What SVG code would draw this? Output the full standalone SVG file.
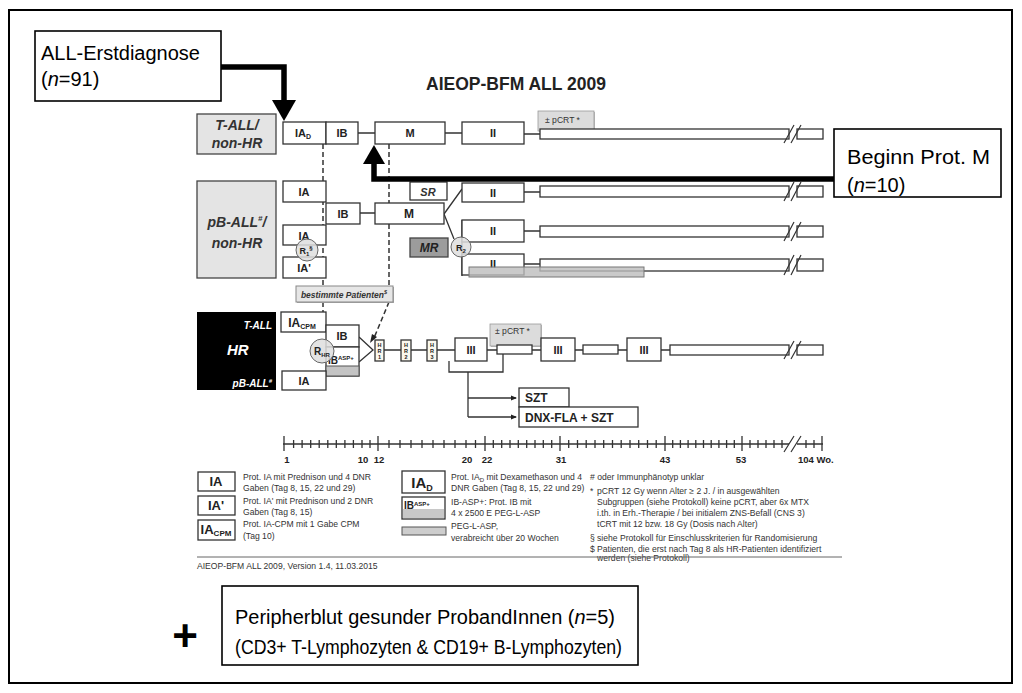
<svg xmlns="http://www.w3.org/2000/svg" width="1022" height="693" viewBox="0 0 1022 693">
<style>
.b{fill:#fff;stroke:#333;stroke-width:1.3}
.gb{fill:#e4e4e4;stroke:#444;stroke-width:1.3}
.t{font-family:"Liberation Sans",Arial,sans-serif;font-weight:bold;fill:#222;text-anchor:middle}
.ti{font-family:"Liberation Sans",Arial,sans-serif;font-weight:bold;font-style:italic;fill:#333;text-anchor:middle}
.ln{stroke:#333;stroke-width:1.3;fill:none}
.dash{stroke:#333;stroke-width:1.5;stroke-dasharray:5 3;fill:none}
.fn{font-family:"Liberation Sans",Arial,sans-serif;font-size:8.6px;fill:#333}
.big{font-family:"Liberation Sans",Arial,sans-serif;font-size:20px;fill:#000}
.thick{stroke:#000;stroke-width:5.5;fill:none}
.circ{fill:#dedede;fill-opacity:0.85;stroke:#666;stroke-width:1}
.sl{stroke:#333;stroke-width:1.2;fill:none}
</style>
<defs>
<marker id="ah" markerWidth="6" markerHeight="6" refX="5" refY="3" orient="auto" markerUnits="userSpaceOnUse"><path d="M0,0.5 L6,3 L0,5.5 Z" fill="#222"/></marker>
</defs>
<rect width="1022" height="693" fill="#fff"/>
<rect x="9" y="10" width="1003" height="673" fill="none" stroke="#000" stroke-width="2"/>

<text x="516" y="90" class="t" font-size="17.5" fill="#111">AIEOP-BFM ALL 2009</text>

<g id="erstdiagnose">
<rect x="35" y="31" width="186" height="70" fill="#fff" stroke="#000" stroke-width="1.6"/>
<text x="41" y="60" class="big">ALL-Erstdiagnose</text>
<text x="41" y="86" class="big">(<tspan font-style="italic">n</tspan>=91)</text>
</g>

<g id="beginn-m">
<rect x="834" y="129" width="167" height="68" fill="#fff" stroke="#000" stroke-width="1.6"/>
<text x="847" y="164" class="big" textLength="143" lengthAdjust="spacingAndGlyphs">Beginn Prot. M</text>
<text x="847" y="192" class="big">(<tspan font-style="italic">n</tspan>=10)</text>
</g>

<g id="tall-nonhr">
<rect x="197" y="114" width="79" height="40" class="gb"/>
<text x="237" y="130" class="ti" font-size="14">T-ALL/</text>
<text x="237" y="148" class="ti" font-size="14">non-HR</text>
</g>

<g id="pball-nonhr">
<rect x="197" y="181" width="79" height="97" class="gb"/>
<text x="237" y="227" class="ti" font-size="14">pB-ALL<tspan font-size="8" dy="-6">#</tspan><tspan dy="6">/</tspan></text>
<text x="237" y="248" class="ti" font-size="14">non-HR</text>
</g>

<g id="hr">
<rect x="197" y="312" width="79" height="78" fill="#000"/>
<text x="272" y="329" class="ti" font-size="10" style="fill:#fff;text-anchor:end">T-ALL</text>
<text x="227" y="355" class="ti" font-size="15" style="fill:#fff;text-anchor:start">HR</text>
<text x="272" y="387" class="ti" font-size="10" style="fill:#fff;text-anchor:end">pB-ALL<tspan font-size="6" dy="-4">#</tspan></text>
</g>

<g id="connectors">
<path class="ln" d="M358,133 H375 M445,133 H462 M524,134 H540"/>
<path class="ln" d="M360,213 H375 M524,192 H540 M524,231 H540 M524,264 H540 M444,214 L462,189 M444,214 L454,239 M462,220 V276"/>
<path class="ln" d="M359,337 L373,350 L359,362 M384,350 H401 M411,350 H427 M437,350 H455 M487,350 H497 M532,350 H541 M575,350 H583 M618,350 H627 M661,350 H670"/>
<path class="ln" d="M449,361 V372 H503 V354 M468,372 V417"/>
<path class="ln" d="M468,398 H516" marker-end="url(#ah)"/>
<path class="ln" d="M468,417 H516" marker-end="url(#ah)"/>
<path class="dash" d="M323,144 V286 M323,302 V325 M389,144 V286"/>
<path class="dash" d="M389,302 L374,338"/>
<path d="M370,343 L372,334 L377,337 Z" fill="#222"/>
</g>

<g id="row-tall">
<rect x="283" y="122" width="43" height="22" class="b"/>
<text x="303" y="137" class="t" font-size="11">IA<tspan font-size="7" dy="2">D</tspan></text>
<rect x="326" y="122" width="32" height="22" class="b"/>
<text x="342" y="137" class="t" font-size="11">IB</text>
<rect x="375" y="122" width="70" height="22" class="b"/>
<text x="410" y="137" class="t" font-size="11">M</text>
<rect x="462" y="122" width="62" height="22" class="b"/>
<text x="493" y="137" class="t" font-size="11">II</text>
<rect x="539" y="112" width="56" height="20" fill="#bbb"/>
<rect x="538" y="111" width="56" height="20" fill="#dcdcdc" stroke="#999" stroke-width="0.8"/>
<text x="545" y="123" class="fn" font-size="7.5">± pCRT *</text>
<rect x="540" y="129" width="249" height="10" class="b"/>
<rect x="797" y="129" width="26" height="10" class="b"/>
<path class="sl" d="M784,143 L794,125 M791,143 L801,125"/>
</g>

<g id="row-pb">
<rect x="283" y="181" width="43" height="21" class="b"/>
<text x="304" y="196" class="t" font-size="11">IA</text>
<rect x="326" y="203" width="34" height="21" class="b"/>
<text x="343" y="218" class="t" font-size="11">IB</text>
<rect x="375" y="203" width="69" height="21" class="b"/>
<text x="409" y="218" class="t" font-size="12">M</text>
<rect x="410" y="182" width="37" height="18" class="b"/>
<text x="428" y="196" class="ti" font-size="11">SR</text>
<rect x="283" y="225" width="43" height="20" class="b"/>
<text x="304" y="240" class="t" font-size="11">IA</text>
<rect x="283" y="257" width="43" height="21" class="b"/>
<text x="304" y="272" class="t" font-size="11">IA'</text>
<circle cx="307" cy="250" r="11" class="circ"/>
<text x="306" y="254" class="t" font-size="9">R<tspan font-size="6" dy="2">1</tspan><tspan font-size="6" dy="-6">§</tspan></text>
<rect x="410" y="238" width="38" height="19" fill="#9c9c9c" stroke="#444" stroke-width="1.3"/>
<text x="429" y="252" class="ti" font-size="12" style="fill:#222">MR</text>
<rect x="462" y="183" width="62" height="19" class="b"/>
<text x="493" y="197" class="t" font-size="11">II</text>
<rect x="540" y="186" width="249" height="11" class="b"/>
<rect x="797" y="186" width="26" height="11" class="b"/>
<path class="sl" d="M784,201 L794,182 M791,201 L801,182"/>
<rect x="462" y="220" width="62" height="22" class="b"/>
<text x="493" y="235" class="t" font-size="11">II</text>
<rect x="540" y="226" width="249" height="11" class="b"/>
<rect x="797" y="226" width="26" height="11" class="b"/>
<path class="sl" d="M784,241 L794,222 M791,241 L801,222"/>
<rect x="462" y="254" width="62" height="21" class="b"/>
<text x="493" y="268" class="t" font-size="11">II</text>
<rect x="540" y="259" width="249" height="12" class="b"/>
<rect x="797" y="259" width="26" height="12" class="b"/>
<path class="sl" d="M784,275 L794,255 M791,275 L801,255"/>
<rect x="469" y="267" width="175" height="10" fill="#bdbdbd" fill-opacity="0.8" stroke="#777" stroke-width="1"/>
<circle cx="461" cy="247" r="10" class="circ"/>
<text x="461" y="251" class="t" font-size="9">R<tspan font-size="6" dy="2">2</tspan></text>
</g>

<g id="bestimmte">
<rect x="297" y="287" width="97" height="16" fill="#aaa"/>
<rect x="296" y="286" width="97" height="16" fill="#e6e6e6" stroke="#888" stroke-width="1"/>
<text x="344" y="298" class="ti" font-size="8.5">bestimmte Patienten<tspan font-size="5.5" dy="-4">$</tspan></text>
</g>

<g id="row-hr">
<rect x="281" y="312" width="45" height="20" class="b"/>
<text x="302" y="327" class="t" font-size="12">IA<tspan font-size="7" dy="2">CPM</tspan></text>
<rect x="326" y="325" width="33" height="22" class="b"/>
<text x="342" y="340" class="t" font-size="11">IB</text>
<rect x="326" y="347" width="33" height="29" class="b"/>
<rect x="326" y="366" width="33" height="10" fill="#c4c4c4" stroke="#555" stroke-width="1"/>
<text x="328" y="364" class="t" font-size="10" style="text-anchor:start">IB<tspan font-size="6" dy="-4">ASP+</tspan></text>
<circle cx="322" cy="351" r="12" class="circ"/>
<text x="322" y="355" class="t" font-size="10">R<tspan font-size="6" dy="2">HR</tspan></text>
<rect x="282" y="371" width="44" height="19" class="b"/>
<text x="304" y="385" class="t" font-size="11">IA</text>
<rect x="375" y="340" width="9" height="21" class="b" style="fill:#fbf8ee"/>
<text x="379.5" y="347" class="t" font-size="5.5">H</text><text x="379.5" y="353" class="t" font-size="5.5">R</text><text x="379.5" y="359" class="t" font-size="5.5">1</text>
<rect x="401" y="340" width="10" height="21" class="b" style="fill:#fbf8ee"/>
<text x="406" y="347" class="t" font-size="5.5">H</text><text x="406" y="353" class="t" font-size="5.5">R</text><text x="406" y="359" class="t" font-size="5.5">2</text>
<rect x="427" y="340" width="10" height="21" class="b" style="fill:#fbf8ee"/>
<text x="432" y="347" class="t" font-size="5.5">H</text><text x="432" y="353" class="t" font-size="5.5">R</text><text x="432" y="359" class="t" font-size="5.5">3</text>
<rect x="455" y="338" width="32" height="23" class="b"/>
<text x="471" y="354" class="t" font-size="11">III</text>
<rect x="491" y="325" width="51" height="22" fill="#bbb"/>
<rect x="490" y="324" width="51" height="22" fill="#dcdcdc" stroke="#999" stroke-width="0.8"/>
<text x="495" y="334" class="fn" font-size="7.5">± pCRT *</text>
<rect x="497" y="345" width="35" height="9" class="b"/>
<rect x="541" y="338" width="34" height="23" class="b"/>
<text x="558" y="354" class="t" font-size="11">III</text>
<rect x="583" y="345" width="35" height="9" class="b"/>
<rect x="627" y="338" width="34" height="23" class="b"/>
<text x="644" y="354" class="t" font-size="11">III</text>
<rect x="670" y="345" width="119" height="10" class="b"/>
<rect x="797" y="345" width="26" height="10" class="b"/>
<path class="sl" d="M784,359 L794,341 M791,359 L801,341"/>
<rect x="519" y="388" width="50" height="19" class="b"/>
<text x="525" y="402" class="t" font-size="12" style="text-anchor:start">SZT</text>
<rect x="519" y="407" width="119" height="20" class="b"/>
<text x="525" y="422" class="t" font-size="12" style="text-anchor:start">DNX-FLA + SZT</text>
</g>

<g id="timeline">
<path class="ln" d="M283,444 H789 M797,444 H823"/>
<path class="ln" stroke-width="1" d="M293.6,440V448 M302.1,440V448 M310.7,440V448 M319.2,440V448 M327.8,440V448 M336.3,440V448 M344.9,440V448 M353.4,440V448 M362,440V448 M370,440V448 M389,440V448 M400,440V448 M411,440V448 M422,440V448 M433,440V448 M444,440V448 M455,440V448 M466,440V448 M475.5,440V448 M493.3,440V448 M501.7,440V448 M510,440V448 M518.3,440V448 M526.7,440V448 M535,440V448 M543.3,440V448 M551.7,440V448 M568.7,440V448 M577.5,440V448 M586.2,440V448 M595,440V448 M603.7,440V448 M612.5,440V448 M621.2,440V448 M630,440V448 M638.7,440V448 M647.5,440V448 M656.2,440V448 M672.7,440V448 M680.4,440V448 M688.1,440V448 M695.8,440V448 M703.5,440V448 M711.2,440V448 M718.9,440V448 M726.6,440V448 M734.3,440V448 M750,440V448 M758,440V448 M766,440V448 M774,440V448 M782,440V448 M806,440V448 M814,440V448"/>
<path class="ln" d="M284,436V451 M378,436V451 M485,436V451 M560,436V451 M665,436V451 M742,436V451 M822,436V451"/>
<path class="sl" d="M784,452 L794,436 M791,452 L801,436"/>
<g class="t" font-size="9.5">
<text x="287" y="463">1</text>
<text x="363" y="463">10</text>
<text x="379" y="463">12</text>
<text x="467" y="463">20</text>
<text x="487" y="463">22</text>
<text x="561" y="463">31</text>
<text x="665" y="463">43</text>
<text x="741" y="463">53</text>
<text x="798" y="463" style="text-anchor:start">104 Wo.</text>
</g>
</g>

<g id="legend">
<rect x="198" y="472" width="37" height="19" class="b" stroke-width="1.6"/>
<text x="216" y="486" class="t" font-size="13">IA</text>
<rect x="198" y="496" width="37" height="19" class="b" stroke-width="1.6"/>
<text x="216" y="510" class="t" font-size="13">IA'</text>
<rect x="198" y="520" width="37" height="20" class="b" stroke-width="1.6"/>
<text x="216" y="534" class="t" font-size="13">IA<tspan font-size="8" dy="2">CPM</tspan></text>
<text class="fn" x="243" y="480">Prot. IA mit Prednison und 4 DNR</text>
<text class="fn" x="243" y="491">Gaben (Tag 8, 15, 22 und 29)</text>
<text class="fn" x="243" y="504">Prot. IA' mit Prednison und 2 DNR</text>
<text class="fn" x="243" y="515">Gaben (Tag 8, 15)</text>
<text class="fn" x="243" y="527">Prot. IA-CPM mit 1 Gabe CPM</text>
<text class="fn" x="243" y="539">(Tag 10)</text>
<rect x="402" y="471" width="43" height="22" class="b" stroke-width="1.6"/>
<text x="422" y="488" class="t" font-size="15">IA<tspan font-size="9" dy="3">D</tspan></text>
<rect x="402" y="497" width="43" height="22" class="b" stroke-width="1.6"/>
<rect x="403" y="509" width="41" height="9" fill="#c8c8c8"/>
<text x="404" y="509" class="t" font-size="10" style="text-anchor:start">IB<tspan font-size="6" dy="-3">ASP+</tspan></text>
<rect x="402" y="527" width="44" height="8" fill="#cdcdcd" stroke="#555" stroke-width="1"/>
<text class="fn" x="451" y="480">Prot. IA<tspan font-size="6" dy="2">D</tspan><tspan dy="-2"> mit Dexamethason und 4</tspan></text>
<text class="fn" x="451" y="491">DNR Gaben (Tag 8, 15, 22 und 29)</text>
<text class="fn" x="451" y="505">IB-ASP+: Prot. IB mit</text>
<text class="fn" x="451" y="516">4 x 2500 E PEG-L-ASP</text>
<text class="fn" x="451" y="529">PEG-L-ASP,</text>
<text class="fn" x="451" y="541">verabreicht über  20 Wochen</text>
</g>

<g id="footnotes">
<text class="fn" x="590" y="480"># oder Immunphänotyp unklar</text>
<text class="fn" x="590" y="494">*</text>
<text class="fn" x="597" y="494">pCRT 12 Gy wenn Alter ≥ 2 J. / in ausgewählten</text>
<text class="fn" x="597" y="505">Subgruppen (siehe Protokoll) keine pCRT, aber 6x MTX</text>
<text class="fn" x="597" y="516">i.th. in Erh.-Therapie / bei initialem ZNS-Befall (CNS 3)</text>
<text class="fn" x="597" y="527">tCRT mit 12 bzw. 18 Gy (Dosis nach Alter)</text>
<text class="fn" x="590" y="541">§</text>
<text class="fn" x="597" y="541">siehe Protokoll für Einschlusskriterien für Randomisierung</text>
<text class="fn" x="590" y="552">$</text>
<text class="fn" x="597" y="552">Patienten, die erst nach Tag 8 als HR-Patienten identifiziert</text>
<text class="fn" x="597" y="561">werden (siehe Protokoll)</text>
<path d="M197,557 H842" stroke="#666" stroke-width="1"/>
<text class="fn" x="197" y="569" font-size="7.6">AIEOP-BFM ALL 2009, Version 1.4, 11.03.2015</text>
</g>

<g id="arrows-thick">
<path class="thick" d="M221,67 H284 V102"/>
<path d="M272,100 L296,100 L284,121 Z" fill="#000"/>
<path class="thick" d="M834,179 H374 V162"/>
<path d="M363,164 L385,164 L374,145 Z" fill="#000"/>
</g>

<g id="gesunde">
<text x="185" y="651" font-family="Liberation Sans,Arial,sans-serif" font-size="44" font-weight="bold" text-anchor="middle" fill="#000">+</text>
<rect x="222" y="586" width="416" height="79" fill="#fff" stroke="#000" stroke-width="1.6"/>
<text x="235" y="624" class="big" textLength="380" lengthAdjust="spacingAndGlyphs">Peripherblut gesunder ProbandInnen (<tspan font-style="italic">n</tspan>=5)</text>
<text x="235" y="654" class="big" textLength="387" lengthAdjust="spacingAndGlyphs">(CD3+ T-Lymphozyten &amp; CD19+ B-Lymphozyten)</text>
</g>
</svg>
